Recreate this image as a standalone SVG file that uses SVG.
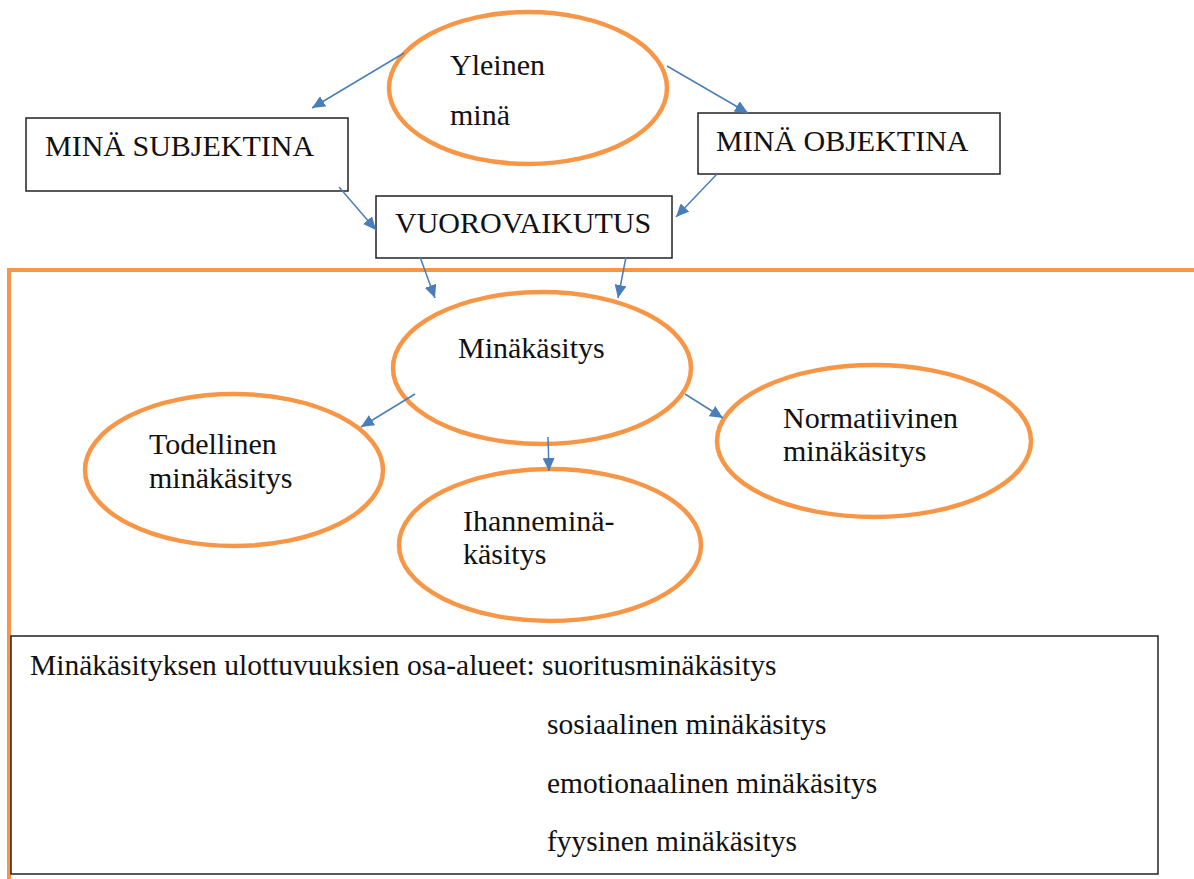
<svg xmlns="http://www.w3.org/2000/svg" width="1194" height="879" viewBox="0 0 1194 879">
<style>
text{font-family:"Liberation Serif","Times New Roman",serif;font-size:30px;fill:#111}
.sm{font-size:29.5px}
.ell{fill:#fff;stroke:#F79646;stroke-width:4.5}
.box{fill:#fff;stroke:#222;stroke-width:1.5}
.frame{fill:none;stroke:#F79646;stroke-width:4}
.arr{stroke:#4A7EBB;stroke-width:1.5;fill:none;marker-end:url(#ah)}
</style>
<defs>
<marker id="ah" markerUnits="userSpaceOnUse" markerWidth="14" markerHeight="12" refX="13" refY="6" orient="auto">
<path d="M0,0 L13,6 L0,12 z" fill="#4A7EBB"/>
</marker>
</defs>
<rect width="1194" height="879" fill="#fff"/>
<path class="frame" d="M9,879 V270 H1194"/>
<g id="yleinen"><ellipse class="ell" cx="528" cy="88" rx="139" ry="76"/><text x="450" y="75">Yleinen</text><text x="450" y="125">minä</text></g>
<g id="subjektina"><rect class="box" x="26" y="118" width="322" height="73"/><text x="45" y="156">MINÄ SUBJEKTINA</text></g>
<g id="objektina"><rect class="box" x="698" y="113" width="302" height="61"/><text x="716" y="151">MINÄ OBJEKTINA</text></g>
<g id="vuorovaikutus"><rect class="box" x="376" y="196" width="296" height="62"/><text x="395" y="233">VUOROVAIKUTUS</text></g>
<g id="minakasitys"><ellipse class="ell" cx="542" cy="368" rx="149" ry="76"/><text x="458" y="358">Minäkäsitys</text></g>
<g id="todellinen"><ellipse class="ell" cx="234" cy="470" rx="149" ry="76"/><text x="149" y="454">Todellinen</text><text x="149" y="488">minäkäsitys</text></g>
<g id="ihannemina"><ellipse class="ell" cx="550" cy="545" rx="151" ry="76"/><text x="463" y="531">Ihanneminä-</text><text x="463" y="564">käsitys</text></g>
<g id="normatiivinen"><ellipse class="ell" cx="874" cy="441" rx="157" ry="76"/><text x="783" y="428">Normatiivinen</text><text x="783" y="461">minäkäsitys</text></g>
<g id="ulottuvuudet"><rect class="box" x="11" y="636" width="1147" height="238"/>
<text class="sm" x="30" y="675">Minäkäsityksen ulottuvuuksien osa-alueet: suoritusminäkäsitys</text>
<text class="sm" x="547" y="734">sosiaalinen minäkäsitys</text>
<text class="sm" x="547" y="793">emotionaalinen minäkäsitys</text>
<text class="sm" x="547" y="851">fyysinen minäkäsitys</text></g>
<g id="connectors">
<line class="arr" x1="404" y1="53" x2="312" y2="108"/>
<line class="arr" x1="667" y1="66" x2="748" y2="113"/>
<line class="arr" x1="339" y1="187" x2="376" y2="230"/>
<line class="arr" x1="717" y1="174" x2="676" y2="217"/>
<line class="arr" x1="420" y1="257" x2="435" y2="298"/>
<line class="arr" x1="626" y1="257" x2="618" y2="298"/>
<line class="arr" x1="415" y1="394" x2="361" y2="427"/>
<line class="arr" x1="548" y1="437" x2="549" y2="471"/>
<line class="arr" x1="685" y1="394" x2="723" y2="418"/>
</g>
</svg>
